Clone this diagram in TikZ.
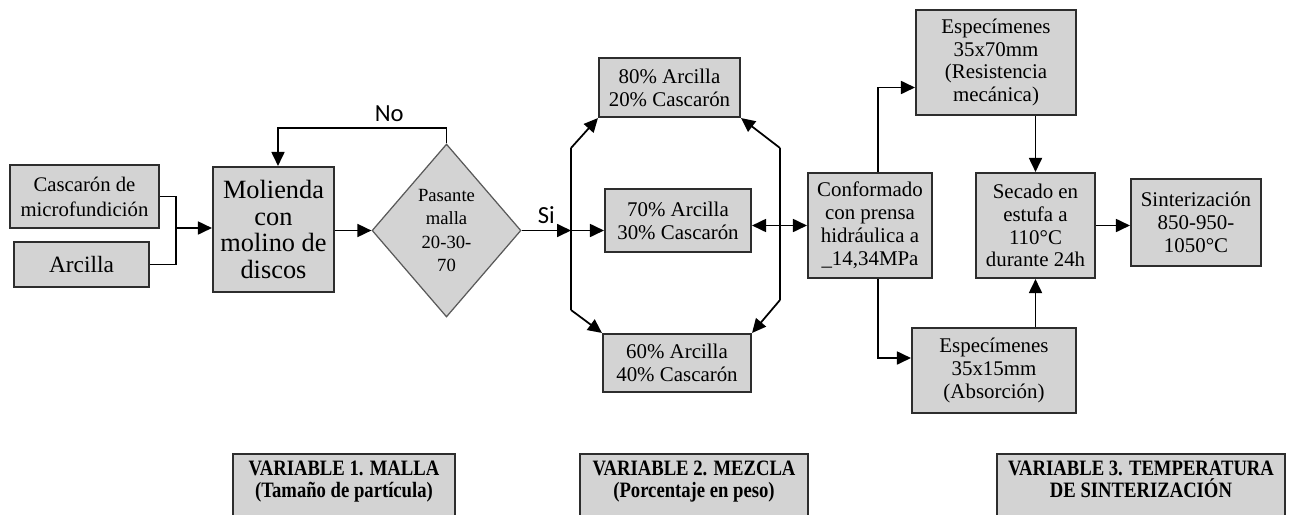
\documentclass[tikz,border=0pt]{standalone}
\usepackage{fontspec}
\setmainfont{Liberation Serif}
\newfontfamily\lblfont{Carlito}
\newfontfamily\varfont[FakeStretch=0.85]{Liberation Serif}
\usetikzlibrary{arrows.meta,shapes.geometric}
\definecolor{boxgray}{RGB}{211,211,211}
\definecolor{edgegray}{RGB}{45,45,45}
\tikzset{
  procbox/.style={draw=edgegray,line width=1.2pt,fill=boxgray,align=center,inner sep=0pt,font=\fontsize{11.9}{13}\selectfont},
  decbox/.style={diamond,draw=gray!70!black,line width=0.7pt,fill=boxgray,align=center,inner sep=0pt,aspect=0.86,font=\fontsize{10.6}{13.4}\selectfont},
  varbox/.style={procbox,anchor=north,inner ysep=4pt,text depth=2cm,font=\varfont\bfseries\fontsize{12.5}{12.5}\selectfont},
  arr/.style={line width=1pt,-{Triangle[length=0.28cm,width=0.26cm]}},
  lin/.style={line width=1pt},
  lbl/.style={font=\lblfont\fontsize{14}{16}\selectfont}
}
\begin{document}
\begin{tikzpicture}[x=0.02cm,y=-0.02cm]
\useasboundingbox (0,0) rectangle (1291,514);
\clip (0,0) rectangle (1291,514);
% variable 1
\node[procbox,minimum width=2.98cm,minimum height=1.26cm,font=\fontsize{11.8}{14.2}\selectfont] (casc) at (84.5,196.5) {Cascarón de\\microfundición};
\node[procbox,minimum width=2.70cm,minimum height=0.90cm,font=\fontsize{13.3}{15}\selectfont] (arc) at (81.5,264.5) {Arcilla};
\node[procbox,minimum width=2.42cm,minimum height=2.50cm,font=\fontsize{15}{15}\selectfont] (mol) at (273.5,229.5) {Molienda\\con\\molino de\\discos};
\node[decbox,minimum width=2.98cm,minimum height=3.46cm] (dia) at (446.5,230.5) {Pasante\\malla\\20-30-\\70};
\coordinate (j1) at (176,228);
\draw[lin] (casc.east) -| (j1);
\draw[lin] (arc.east) -| (j1);
\draw[arr] (j1) -- (j1 -| mol.west);
\draw[arr] (mol.east |- dia.west) -- (dia.west);
\coordinate (nol) at (278,128);
\draw[arr] (dia.north) |- node[lbl,pos=0.67,above] (no) {No} (nol) -- (nol |- mol.north);
% variable 2
\node[procbox,minimum width=2.82cm,minimum height=1.18cm] (p80) at (669.5,87.5) {80\% Arcilla\\20\% Cascarón};
\node[procbox,minimum width=2.92cm,minimum height=1.26cm] (p70) at (678,220.5) {70\% Arcilla\\30\% Cascarón};
\node[procbox,minimum width=2.96cm,minimum height=1.16cm] (p60) at (677,363) {60\% Arcilla\\40\% Cascarón};
\coordinate (bl) at (571,230.5);
\coordinate (bl1) at (571,148);
\coordinate (bl2) at (571,310);
\coordinate (br1) at (780,148);
\coordinate (br2) at (780,300);
\draw[arr] (dia.east) -- node[lbl,above] (si) {Si} (bl);
\draw[lin] (bl1) -- (bl2);
\draw[lin] (br1) -- (br2);
\draw[arr] (bl1) -- (p80.south west);
\draw[arr] (bl2) -- (p60.north west);
\draw[arr] (bl) -- (bl -| p70.west);
\draw[arr] (br1) -- (p80.south east);
\draw[arr] (br2) -- (p60.north east);
% variable 3
\node[procbox,minimum width=2.48cm,minimum height=2.10cm] (conf) at (870,225.5) {Conformado\\con prensa\\hidráulica a\\\_14,34MPa};
\node[procbox,minimum width=3.20cm,minimum height=2.10cm] (e1) at (996,62.5) {Especímenes\\35x70mm\\(Resistencia\\mecánica)};
\node[procbox,minimum width=3.28cm,minimum height=1.70cm] (e2) at (994,370.5) {Especímenes\\35x15mm\\(Absorción)};
\node[procbox,minimum width=2.38cm,minimum height=2.10cm] (sec) at (1035.5,225.5) {Secado en\\estufa a\\110°C\\durante 24h};
\node[procbox,minimum width=2.60cm,minimum height=1.74cm] (sint) at (1196,222.5) {Sinterización\\850-950-\\1050°C};
\draw[line width=1pt,{Triangle[length=0.28cm,width=0.26cm]}-{Triangle[length=0.28cm,width=0.26cm]}] (conf.west -| p70.east) -- (conf.west);
\draw[arr] ([xshift=0.16cm]conf.north) |- ([yshift=-0.5cm]e1.west);
\draw[arr] ([xshift=0.16cm]conf.south) |- ([yshift=0.25cm]e2.west);
\draw[arr] (sec.north |- e1.south) -- (sec.north);
\draw[arr] (sec.south |- e2.north) -- (sec.south);
\draw[arr] (sec.east) -- (sec.east -| sint.west);
% variables
\node[varbox,minimum width=4.44cm] (var1) at (344,453) {VARIABLE 1. MALLA\\(Tamaño de partícula)};
\node[varbox,minimum width=4.56cm] (var2) at (694,453) {VARIABLE 2. MEZCLA\\(Porcentaje en peso)};
\node[varbox,minimum width=5.76cm] (var3) at (1141,453) {VARIABLE 3. TEMPERATURA\\DE SINTERIZACIÓN};
\end{tikzpicture}
\end{document}
